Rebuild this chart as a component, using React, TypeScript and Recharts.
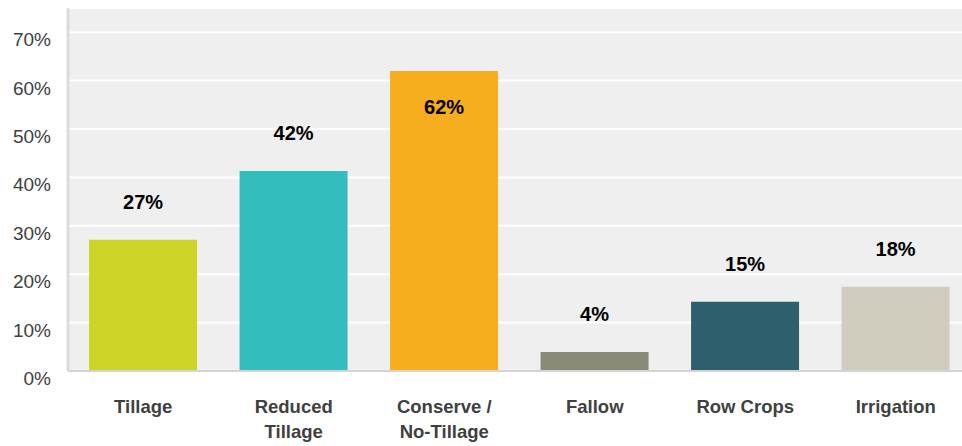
import { BarChart, Bar, XAxis, YAxis, CartesianGrid, Cell, LabelList } from 'recharts';

const categories = ['Tillage', 'Reduced\nTillage', 'Conserve /\nNo-Tillage', 'Fallow', 'Row Crops', 'Irrigation'];
const shares = [27.1, 41.3, 62, 3.9, 14.3, 17.4];
const shareLabels = ['27%', '42%', '62%', '4%', '15%', '18%'];
const barColors = ['#cdd426', '#33bdbf', '#f6ad1e', '#8a8a78', '#2e5f6c', '#d0cdbf'];
const yTicks = [0, 10, 20, 30, 40, 50, 60, 70];

const data = categories.map((name, i) => ({ name, value: shares[i], label: shareLabels[i] }));

const FONT = '"Liberation Sans", Arial, sans-serif';

function CategoryTick({ x, y, payload }: any) {
    const lines = String(payload.value).split('\n');
    return (
        <text x={x} y={y} textAnchor="middle" fontFamily={FONT} fontSize={18.5} fontWeight="bold" fill="#404040">
            {lines.map((line, i) => (
                <tspan key={i} x={x} dy={i === 0 ? 34 : 25}>{line}</tspan>
            ))}
        </text>
    );
}

function PercentTick({ x, y, payload }: any) {
    return (
        <text x={x} y={y} dy={14} textAnchor="end" fontFamily={FONT} fontSize={19} fill="#404040">
            {payload.value}%
        </text>
    );
}

// labels sit above each bar, except the tall one which gets it inside
function ValueLabel({ x, y, width, value, index }: any) {
    const inside = shares[index] > 55;
    return (
        <text
            x={x + width / 2}
            y={inside ? y + 43 : y - 31}
            textAnchor="middle"
            fontFamily={FONT}
            fontSize={20}
            fontWeight="bold"
            fill="#000"
        >
            {value}
        </text>
    );
}

export default function App() {
    return (
        <div style={{ position: 'absolute', left: 0, top: 0, width: 962, height: 446, overflow: 'hidden', background: '#fff' }}>
            <BarChart
                width={980}
                height={446}
                data={data}
                margin={{ top: 8, right: 9, bottom: 0, left: 8 }}
                barCategoryGap="14%"
            >
                <CartesianGrid vertical={false} fill="#efefef" stroke="#ffffff" strokeWidth={2} />
                <XAxis
                    dataKey="name"
                    height={75}
                    tickLine={false}
                    axisLine={{ stroke: '#d4d4d4', strokeWidth: 2 }}
                    tick={<CategoryTick />}
                    interval={0}
                />
                <YAxis
                    width={60}
                    domain={[0, 75]}
                    ticks={yTicks}
                    tickLine={false}
                    axisLine={{ stroke: '#dcdcdc', strokeWidth: 3 }}
                    tick={<PercentTick />}
                    tickMargin={11}
                />
                <Bar dataKey="value" isAnimationActive={false}>
                    {data.map((entry, i) => (
                        <Cell key={`cell-${i}`} fill={barColors[i]} />
                    ))}
                    <LabelList dataKey="label" content={<ValueLabel />} />
                </Bar>
            </BarChart>
        </div>
    );
}
